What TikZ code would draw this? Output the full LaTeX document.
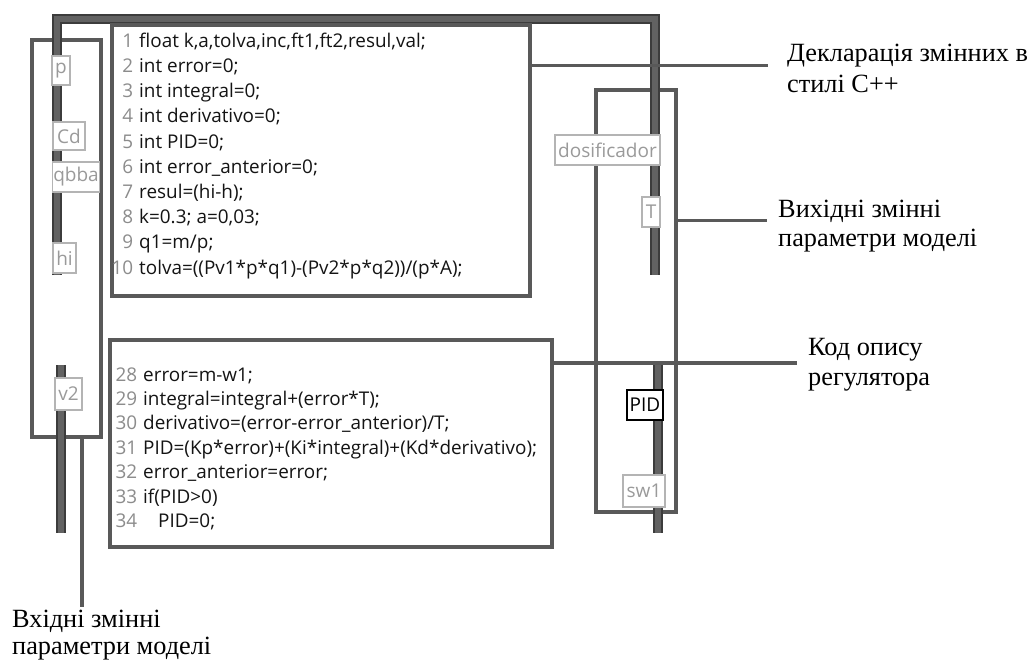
\documentclass[tikz,border=0pt]{standalone}
\usepackage{fontspec}
\setmainfont{Liberation Serif}
\newfontfamily\codefont{Open Sans}
\usetikzlibrary{calc}
\definecolor{linegray}{HTML}{595959}
\definecolor{baredge}{HTML}{3C3C3C}
\definecolor{barmid}{HTML}{626262}
\definecolor{termborder}{HTML}{B4B4B4}
\definecolor{termtext}{HTML}{9A9A9A}
\definecolor{numgray}{HTML}{8C8C8C}
\definecolor{codetext}{HTML}{141414}
\newcommand{\cln}[2]{\makebox[22pt][r]{\color{numgray}#1}\hspace{6pt}{\color{codetext}#2}\strut}
\tikzset{
  grouprect/.style={draw=linegray, line width=4pt, inner sep=0pt, outer sep=0pt},
  codebox/.style={draw=linegray, line width=4pt, fill=white, inner sep=0pt, outer sep=0pt},
  wirebar/.style={draw=baredge, double=barmid, double distance=6pt, line width=2pt},
  leader/.style={draw=linegray, line width=3.5pt},
  term/.style={draw=termborder, line width=1.5pt, fill=white, text=termtext, inner sep=1pt,
    font=\codefont\fontsize{19}{21}\selectfont},
  termdark/.style={draw=black, line width=2.5pt, fill=white, text=black, inner sep=1pt,
    font=\codefont\fontsize{19}{21}\selectfont},
  lbl/.style={anchor=base west, inner sep=0pt, font=\fontsize{26.3}{30}\selectfont},
  codetxt/.style={anchor=north west, inner sep=0pt, align=left}
}
\begin{document}
\begin{tikzpicture}[x=1pt,y=-1pt]
\useasboundingbox[fill=white] (0,0) rectangle (1032,661);
% group rectangles
\node[grouprect, minimum width=69pt, minimum height=397pt] (inRect) at (66.5,238.5) {};
\node[grouprect, minimum width=80pt, minimum height=422pt] (outRect) at (636,301) {};
% frame wires
\draw[wirebar] (57,275) -- (57,19) -- (655,19) -- (655,275);
\draw[wirebar] (60.5,365) -- (60.5,533);
\draw[wirebar] (658,365) -- (658,533);
% code boxes
\node[codebox, minimum width=418pt, minimum height=271pt] (code1) at (321,160.5) {};
\node[codebox, minimum width=442pt, minimum height=207pt] (code2) at (331,443.5) {};
\node[codetxt, font=\codefont\fontsize{18.9}{25.2}\selectfont] (code1txt) at (111,29.4) {%
\cln{1}{float k,a,tolva,inc,ft1,ft2,resul,val;}\\
\cln{2}{int error=0;}\\
\cln{3}{int integral=0;}\\
\cln{4}{int derivativo=0;}\\
\cln{5}{int PID=0;}\\
\cln{6}{int error\_anterior=0;}\\
\cln{7}{resul=(hi-h);}\\
\cln{8}{k=0.3; a=0,03;}\\
\cln{9}{q1=m/p;}\\
\cln{10}{tolva=((Pv1*p*q1)-(Pv2*p*q2))/(p*A);}};
\node[codetxt, font=\codefont\fontsize{18.9}{24.4}\selectfont] (code2txt) at (115,363.9) {%
\cln{28}{error=m-w1;}\\
\cln{29}{integral=integral+(error*T);}\\
\cln{30}{derivativo=(error-error\_anterior)/T;}\\
\cln{31}{PID=(Kp*error)+(Ki*integral)+(Kd*derivativo);}\\
\cln{32}{error\_anterior=error;}\\
\cln{33}{if(PID>0)}\\
\cln{34}{\hspace{15pt}PID=0;}};
% terminals
\node[term, minimum width=18pt, minimum height=29pt] (tp) at (61,70.5) {p};
\node[term, minimum width=32pt, minimum height=28pt] (tCd) at (69,136) {Cd};
\node[term, minimum width=46pt, minimum height=30pt] (tqbba) at (76,177) {qbba};
\node[term, minimum width=23pt, minimum height=30pt] (thi) at (64.5,258) {hi};
\node[term, minimum width=27pt, minimum height=32pt] (tv2) at (68.5,394) {v2};
\node[term, minimum width=105pt, minimum height=30pt] (tdos) at (607.5,150) {dosificador};
\node[term, minimum width=18pt, minimum height=30pt] (tT) at (651,212) {T};
\node[termdark, minimum width=36pt, minimum height=30pt] (tPID) at (645,405) {PID};
\node[term, minimum width=42pt, minimum height=32pt] (tsw) at (644,491) {sw1};
% leader lines
\coordinate (declEnd) at (768,65.5);
\coordinate (outEnd) at (767,220.5);
\coordinate (regEnd) at (797,363);
\coordinate (inEnd) at (82,607);
\draw[leader] (code1.east |- declEnd) -- (declEnd);
\draw[leader] (outRect.east |- outEnd) -- (outEnd);
\draw[leader] (code2.east |- regEnd) -- (regEnd);
\draw[leader] (inRect.south -| inEnd) -- (inEnd);
% labels
\node[lbl] (decl1) at (787,62) {Декларація змінних в};
\node[lbl] (decl2) at (787,92) {стилі С++};
\node[lbl] (out1) at (778,217) {Вихідні змінні};
\node[lbl] (out2) at (778,246) {параметри моделі};
\node[lbl] (reg1) at (808,355) {Код опису};
\node[lbl] (reg2) at (808,385) {регулятора};
\node[lbl] (in1) at (12,627) {Вхідні змінні};
\node[lbl] (in2) at (12,654) {параметри моделі};
\end{tikzpicture}
\end{document}
